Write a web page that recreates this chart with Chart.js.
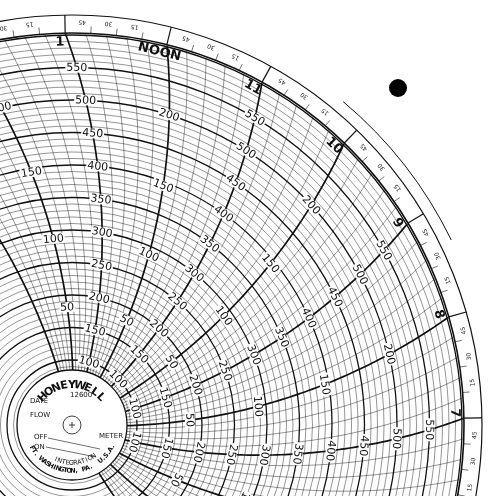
<!DOCTYPE html>
<html>
<head>
<meta charset="utf-8">
<script src="https://cdn.jsdelivr.net/npm/chart.js@4.4.0/dist/chart.umd.min.js"></script>
<style>body{margin:0;background:#fff}canvas{display:block}</style>
</head>
<body>
<canvas id="c" width="501" height="496"></canvas>
<script>
// Circular flow-meter chart paper (Honeywell 12600), top-right quarter view

// hours shown on the rim, and their names
const hourValues = [14, 13, 12, 11, 10, 9, 8, 7, 6];
const hourNames = ['2', '1', 'NOON', '11', '10', '9', '8', '7', '6'];
// value scale on odd hours (0-600) and on even hours (0-250)
const scaleA = [100, 150, 200, 250, 300, 350, 400, 450, 500, 550];
const scaleB = [50, 100, 150, 200];
// tiny minute marks printed on the rim
const minuteLabels = ['15', '30', '45'];

const R_HUB = 55, R_OUT = 392, R_RIM = 410, ARC = 590;
const rad = d => d * Math.PI / 180;

// outer angle of an hour line, degrees clockwise from the top
function hourAngle(h) { return 14 + (12 - h) * 15; }
// the pen arc: angle at radius r for a line ending at outer angle a0
function arcAngle(a0, r) {
    return a0 + (Math.acos(r / (2 * ARC)) - Math.acos(R_OUT / (2 * ARC))) * 180 / Math.PI;
}
function rA(v) { return 0.65 * v; }
function rB(v) { return 49 + 1.38 * v; }

const paperPlugin = {
    id: 'paper',
    afterDraw(chart) {
        const ctx = chart.ctx;
        const sx = chart.scales.x, sy = chart.scales.y;
        const px = (r, a) => [sx.getPixelForValue(r * Math.sin(rad(a))), sy.getPixelForValue(r * Math.cos(rad(a)))];
        const [cx, cy] = px(0, 0);
        ctx.save();
        ctx.fillStyle = '#fff';
        ctx.fillRect(0, 0, chart.width, chart.height);
        ctx.strokeStyle = '#111';

        // concentric value circles
        ctx.save();
        ctx.beginPath(); ctx.arc(cx, cy, R_OUT, 0, Math.PI * 2); ctx.clip();
        for (let v = 90; v <= 600; v += 10) {
            ctx.lineWidth = v % 50 === 0 ? 1.3 : 0.45;
            ctx.beginPath(); ctx.arc(cx, cy, rA(v), 0, Math.PI * 2); ctx.stroke();
        }
        // time arcs: 12-minute minor lines, bold hour lines
        for (let h = 15; h >= 4; h -= 0.2) {
            const hh = Math.round(h * 5) / 5;
            const isHour = Math.abs(hh - Math.round(hh)) < 1e-6;
            const a0 = hourAngle(hh);
            ctx.lineWidth = isHour ? 1.7 : 0.45;
            ctx.beginPath();
            for (let r = R_HUB; r <= R_OUT; r += 4) {
                const [x, y] = px(r, arcAngle(a0, r));
                r === R_HUB ? ctx.moveTo(x, y) : ctx.lineTo(x, y);
            }
            ctx.stroke();
        }
        ctx.restore();

        // rim rings
        ctx.lineWidth = 1.6;
        ctx.beginPath(); ctx.arc(cx, cy, R_OUT, 0, Math.PI * 2); ctx.stroke();
        ctx.lineWidth = 1.2;
        ctx.beginPath(); ctx.arc(cx, cy, R_RIM, 0, Math.PI * 2); ctx.stroke();
        ctx.lineWidth = 1;
        ctx.beginPath(); ctx.arc(cx, cy, 422, rad(40 - 90), rad(64 - 90)); ctx.stroke();

        // rim ticks and labels
        hourValues.forEach((h, i) => {
            const a = hourAngle(h);
            let [x1, y1] = px(R_OUT, a), [x2, y2] = px(R_RIM, a);
            ctx.lineWidth = 1.2;
            ctx.beginPath(); ctx.moveTo(x1, y1); ctx.lineTo(x2, y2); ctx.stroke();
            const [tx, ty] = px(R_OUT - 9, a - 0.8);
            ctx.save();
            ctx.translate(tx, ty); ctx.rotate(rad(a));
            ctx.fillStyle = '#111';
            ctx.font = 'bold 13px "DejaVu Sans"';
            ctx.textAlign = 'center'; ctx.textBaseline = 'middle';
            ctx.fillText(hourNames[i], 0, 0);
            ctx.restore();
            minuteLabels.forEach((m, k) => {
                const am = a - (k + 1) * 3.75;
                const [mx1, my1] = px(R_OUT, am), [mx2, my2] = px(R_OUT + 7, am);
                ctx.lineWidth = 0.6;
                ctx.beginPath(); ctx.moveTo(mx1, my1); ctx.lineTo(mx2, my2); ctx.stroke();
                const [lx, ly] = px(R_OUT + 11, am - 1.3);
                ctx.save();
                ctx.translate(lx, ly); ctx.rotate(rad(am + 180));
                ctx.fillStyle = '#222';
                ctx.font = '6px "DejaVu Sans"';
                ctx.textAlign = 'center'; ctx.textBaseline = 'middle';
                ctx.fillText(m, 0, 0);
                ctx.restore();
            });
        });

        // value labels on the hour lines
        const label = (text, r, a0) => {
            const a = arcAngle(a0, r);
            const [x, y] = px(r, a);
            ctx.save();
            ctx.translate(x, y); ctx.rotate(rad(a));
            ctx.font = '11px "DejaVu Sans"';
            const w = ctx.measureText(text).width;
            ctx.fillStyle = '#fff';
            ctx.fillRect(-w / 2 - 1, -5, w + 2, 10);
            ctx.fillStyle = '#111';
            ctx.textAlign = 'center'; ctx.textBaseline = 'middle';
            ctx.fillText(text, 0, 0.5);
            ctx.restore();
        };
        hourValues.forEach(h => {
            const a0 = hourAngle(h);
            if (h % 2 === 1) scaleA.forEach(v => label(String(v), rA(v), a0));
            else scaleB.forEach(v => label(String(v), rB(v), a0));
        });

        // hub
        ctx.fillStyle = '#fff';
        ctx.lineWidth = 1.3;
        ctx.beginPath(); ctx.arc(cx, cy, R_HUB, 0, Math.PI * 2); ctx.fill(); ctx.stroke();
        ctx.lineWidth = 0.8;
        ctx.beginPath(); ctx.arc(cx, cy, 9, 0, Math.PI * 2); ctx.stroke();
        ctx.beginPath(); ctx.moveTo(cx - 3, cy); ctx.lineTo(cx + 3, cy);
        ctx.moveTo(cx, cy - 3); ctx.lineTo(cx, cy + 3); ctx.stroke();
        const curved = (text, r, a0, step, font, flip) => {
            ctx.font = font;
            ctx.fillStyle = '#111';
            ctx.textAlign = 'center'; ctx.textBaseline = 'middle';
            [...text].forEach((ch, k) => {
                const a = a0 + k * step;
                const [x, y] = px(r, a);
                ctx.save(); ctx.translate(x, y); ctx.rotate(rad(flip ? a + 180 : a));
                ctx.fillText(ch, 0, 0); ctx.restore();
            });
        };
        curved('HONEYWELL', 40, -46, 11.5, 'bold 11px "DejaVu Sans"', false);
        curved('FT. WASHINGTON, PA.  U.S.A.', 46, 240, -4.7, 'bold 6.5px "DejaVu Sans"', true);
        curved('INTEGRATION', 38, 205, -6, '6.5px "DejaVu Sans"', true);
        ctx.font = '7px "DejaVu Sans"';
        ctx.textAlign = 'left';
        ctx.fillText('12600', cx - 2, cy - 30);
        ctx.fillText('DATE', cx - 42, cy - 24);
        ctx.fillText('FLOW', cx - 42, cy - 10);
        ctx.fillText('METER', cx + 27, cy + 11);
        ctx.fillText('OFF', cx - 38, cy + 12);
        ctx.fillText('ON', cx - 38, cy + 22);
        ctx.lineWidth = 0.6;
        ctx.beginPath();
        ctx.moveTo(cx - 24, cy + 13); ctx.lineTo(cx + 28, cy + 24);
        ctx.moveTo(cx - 26, cy + 22); ctx.lineTo(cx + 24, cy + 32);
        ctx.stroke();

        // punch hole
        ctx.fillStyle = '#000';
        ctx.beginPath(); ctx.arc(398, 88, 9, 0, Math.PI * 2); ctx.fill();
        ctx.restore();
    }
};

new Chart(document.getElementById('c'), {
    type: 'scatter',
    data: { datasets: [{ data: [], showLine: false }] },
    options: {
        responsive: false,
        animation: false,
        layout: { padding: 0 },
        plugins: { legend: { display: false }, tooltip: { enabled: false } },
        scales: {
            x: { display: false, min: -72, max: 429 },
            y: { display: false, min: -71, max: 425 }
        }
    },
    plugins: [paperPlugin]
});
</script>
</body>
</html>
